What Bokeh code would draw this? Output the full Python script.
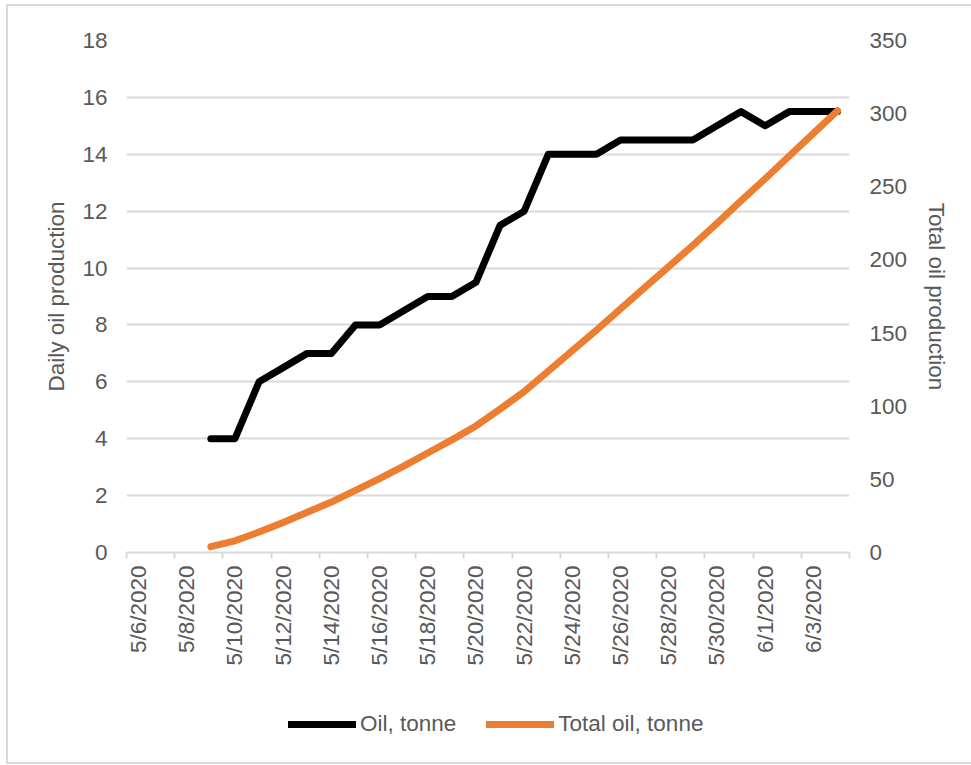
from bokeh.plotting import figure
from bokeh.layouts import column
from bokeh.models import (Range1d, LinearAxis, FixedTicker, CustomJSTickFormatter,
                          Legend, LegendItem, ColumnDataSource, Grid)
from bokeh.embed import file_html
from bokeh.resources import INLINE

# Calendar days shown on the category axis
dates = ["5/6/2020", "5/7/2020", "5/8/2020", "5/9/2020", "5/10/2020", "5/11/2020",
         "5/12/2020", "5/13/2020", "5/14/2020", "5/15/2020", "5/16/2020", "5/17/2020",
         "5/18/2020", "5/19/2020", "5/20/2020", "5/21/2020", "5/22/2020", "5/23/2020",
         "5/24/2020", "5/25/2020", "5/26/2020", "5/27/2020", "5/28/2020", "5/29/2020",
         "5/30/2020", "5/31/2020", "6/1/2020", "6/2/2020", "6/3/2020", "6/4/2020"]

# Production days (5/9 .. 6/4)
prod_dates = dates[3:]

# Daily oil production, tonne
oil = [4, 4, 6, 6.5, 7, 7, 8, 8, 8.5, 9, 9, 9.5, 11.5, 12, 14, 14, 14,
       14.5, 14.5, 14.5, 14.5, 15, 15.5, 15, 15.5, 15.5, 15.5]

# Total (cumulative) oil production, tonne
total = [4, 8, 14, 20.5, 27.5, 34.5, 42.5, 50.5, 59, 68, 77, 86.5, 98, 110,
         124, 138, 152, 166.5, 181, 195.5, 210, 225, 240.5, 255.5, 271, 286.5, 302]

series_names = ["Oil, tonne", "Total oil, tonne"]
series_cols = ["oil", "total"]
series_colors = ["black", "#ED7D31"]

left_ticks = [0, 2, 4, 6, 8, 10, 12, 14, 16, 18]
right_ticks = [0, 50, 100, 150, 200, 250, 300, 350]

TEXT = "#595959"
GRID = "#d9d9d9"
FONT = "Liberation Sans"
FS = "22.5px"

src = ColumnDataSource(dict(
    day=[dates.index(d) for d in prod_dates],
    oil=oil,
    total=total,
))

p = figure(frame_width=723, frame_height=512, output_backend="svg", toolbar_location=None,
           x_range=Range1d(-0.5, len(dates) - 0.5), y_range=Range1d(0, 18),
           min_border_left=126, min_border_right=122, min_border_top=40,
           min_border_bottom=130, x_axis_type=None, y_axis_type=None)
p.outline_line_color = None
p.background_fill_color = "white"
p.border_fill_color = None
p.extra_y_ranges = {"total": Range1d(0, 350)}

# Bottom date axis: labels every second day, tick marks at category boundaries
xaxis = LinearAxis(
    ticker=FixedTicker(ticks=list(range(0, len(dates), 2)),
                       minor_ticks=[i - 0.5 for i in range(0, len(dates) + 1, 2)]),
    formatter=CustomJSTickFormatter(args=dict(labels=dates),
                                    code="return labels[Math.round(tick)] || '';"),
)
xaxis.major_label_orientation = 1.5708
xaxis.major_tick_line_color = None
xaxis.major_tick_out = 0
xaxis.major_tick_in = 0
xaxis.minor_tick_line_color = GRID
xaxis.minor_tick_line_width = 2
xaxis.minor_tick_out = 6
xaxis.minor_tick_in = 0
xaxis.axis_line_color = GRID
xaxis.axis_line_width = 2
xaxis.major_label_standoff = 7
xaxis.major_label_text_font = FONT
xaxis.major_label_text_font_size = FS
xaxis.major_label_text_color = TEXT
p.add_layout(xaxis, "below")

# Left axis: daily production
yaxis = LinearAxis(ticker=FixedTicker(ticks=left_ticks), axis_label="Daily oil production")
# Right axis: cumulative production
raxis = LinearAxis(y_range_name="total", ticker=FixedTicker(ticks=right_ticks),
                   axis_label="Total oil production")
for ax in (yaxis, raxis):
    ax.axis_line_color = None
    ax.major_tick_line_color = None
    ax.minor_tick_line_color = None
    ax.major_tick_out = 0
    ax.major_tick_in = 0
    ax.major_label_text_font = FONT
    ax.major_label_text_font_size = FS
    ax.major_label_text_color = TEXT
    ax.axis_label_text_font = FONT
    ax.axis_label_text_font_size = FS
    ax.axis_label_text_font_style = "normal"
    ax.axis_label_text_color = TEXT
yaxis.major_label_standoff = 19
yaxis.axis_label_standoff = 10
raxis.major_label_standoff = 20
raxis.axis_label_standoff = 14
p.add_layout(yaxis, "left")
p.add_layout(raxis, "right")

# Horizontal gridlines from the left axis
p.add_layout(Grid(dimension=1, ticker=yaxis.ticker, grid_line_color=GRID,
                  grid_line_width=2))

r_oil = p.line("day", "oil", source=src, line_color=series_colors[0], line_width=7,
               line_join="round", line_cap="round")
r_total = p.line("day", "total", source=src, y_range_name="total",
                 line_color=series_colors[1], line_width=7, line_join="round",
                 line_cap="round")

# Legend strip under the chart; its key lines reuse the series but sit outside the view
leg = figure(width=971, height=83, output_backend="svg", toolbar_location=None,
             x_axis_type=None, y_axis_type=None, min_border=0,
             x_range=Range1d(-20, -19), y_range=Range1d(-20, -19))
leg.outline_line_color = None
leg.background_fill_color = None
leg.border_fill_color = None
leg.xgrid.visible = False
leg.ygrid.visible = False
keys = [leg.line("day", col, source=src, line_color=c, line_width=7, line_cap="round")
        for col, c in zip(series_cols, series_colors)]
legend = Legend(items=[LegendItem(label=n, renderers=[k])
                       for n, k in zip(series_names, keys)],
                orientation="horizontal", location=(162, 28),
                glyph_width=68, glyph_height=24, label_standoff=4, spacing=30,
                label_text_font=FONT, label_text_font_size=FS,
                label_text_color=TEXT, border_line_color=None,
                background_fill_alpha=0, margin=0, padding=0)
leg.add_layout(legend, "center")

# Light frame around the whole chart
layout = column(p, leg, spacing=0, styles={
    "background-color": "white",
    "background-image": ", ".join(["linear-gradient(#d9d9d9, #d9d9d9)"] * 3),
    "background-size": "2px 759px, 971px 2px, 971px 2px",
    "background-position": "6px 4px, 6px 4px, 6px 762px",
    "background-repeat": "no-repeat",
})

open("out.html", "w").write(file_html(layout, INLINE))
